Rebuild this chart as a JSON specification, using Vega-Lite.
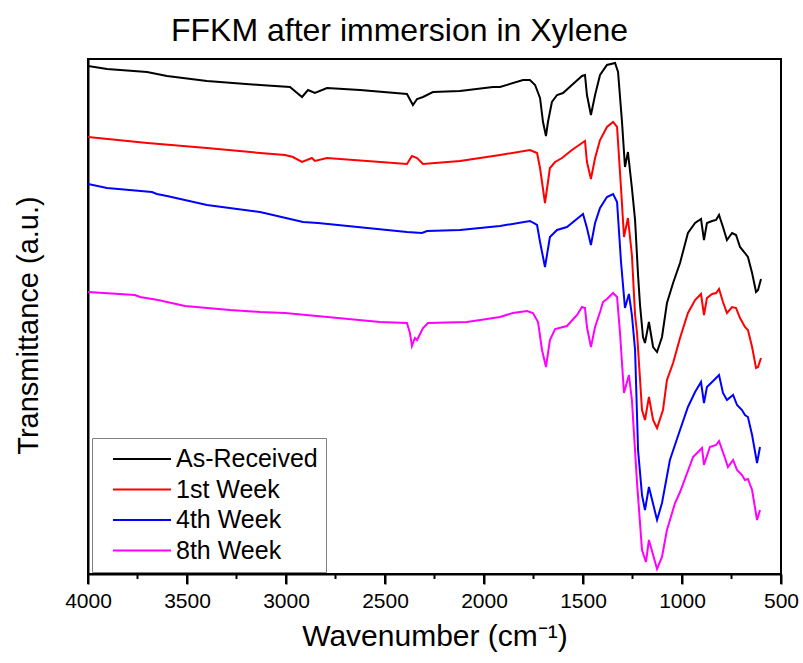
{
"$schema": "https://vega.github.io/schema/vega-lite/v6.json",
"width": 693, "height": 515,
"autosize": {"type": "none"},
"padding": {"left": 88, "top": 59, "right": 22, "bottom": 89},
"config": {"font": "Liberation Sans", "view": {"stroke": "black", "strokeWidth": 2}},
"title": {"text": "FFKM after immersion in Xylene", "fontSize": 32, "font": "Liberation Sans", "fontWeight": "normal", "color": "black", "anchor": "middle", "dx": -35, "offset": 11},
"datasets": {
"ticks": [
{"wn":4000,"lo":0,"hi":-10},{"wn":3750,"lo":0,"hi":-5},{"wn":3500,"lo":0,"hi":-10},{"wn":3250,"lo":0,"hi":-5},{"wn":3000,"lo":0,"hi":-10},{"wn":2750,"lo":0,"hi":-5},{"wn":2500,"lo":0,"hi":-10},{"wn":2250,"lo":0,"hi":-5},{"wn":2000,"lo":0,"hi":-10},{"wn":1750,"lo":0,"hi":-5},{"wn":1500,"lo":0,"hi":-10},{"wn":1250,"lo":0,"hi":-5},{"wn":1000,"lo":0,"hi":-10},{"wn":750,"lo":0,"hi":-5},{"wn":500,"lo":0,"hi":-10}
],
"spec": [
{"s":"As-Received","wn":4000,"t":508},{"s":"As-Received","wn":3904,"t":505},{"s":"As-Received","wn":3702,"t":502},{"s":"As-Received","wn":3601,"t":498},{"s":"As-Received","wn":3399,"t":493},{"s":"As-Received","wn":3202,"t":490},{"s":"As-Received","wn":3131,"t":489},{"s":"As-Received","wn":2980,"t":487},{"s":"As-Received","wn":2919,"t":477},{"s":"As-Received","wn":2889,"t":484},{"s":"As-Received","wn":2854,"t":481},{"s":"As-Received","wn":2793,"t":486},{"s":"As-Received","wn":2626,"t":484},{"s":"As-Received","wn":2389,"t":480},{"s":"As-Received","wn":2359,"t":469},{"s":"As-Received","wn":2338,"t":475},{"s":"As-Received","wn":2308,"t":477},{"s":"As-Received","wn":2258,"t":482},{"s":"As-Received","wn":2121,"t":483},{"s":"As-Received","wn":1955,"t":487},{"s":"As-Received","wn":1919,"t":487},{"s":"As-Received","wn":1803,"t":494},{"s":"As-Received","wn":1768,"t":494},{"s":"As-Received","wn":1742,"t":489},{"s":"As-Received","wn":1717,"t":476},{"s":"As-Received","wn":1702,"t":452},{"s":"As-Received","wn":1687,"t":438},{"s":"As-Received","wn":1677,"t":452},{"s":"As-Received","wn":1657,"t":472},{"s":"As-Received","wn":1631,"t":479},{"s":"As-Received","wn":1601,"t":481},{"s":"As-Received","wn":1556,"t":489},{"s":"As-Received","wn":1505,"t":498},{"s":"As-Received","wn":1490,"t":499},{"s":"As-Received","wn":1480,"t":479},{"s":"As-Received","wn":1460,"t":459},{"s":"As-Received","wn":1439,"t":479},{"s":"As-Received","wn":1414,"t":499},{"s":"As-Received","wn":1379,"t":509},{"s":"As-Received","wn":1338,"t":511},{"s":"As-Received","wn":1323,"t":502},{"s":"As-Received","wn":1303,"t":452},{"s":"As-Received","wn":1288,"t":407},{"s":"As-Received","wn":1273,"t":422},{"s":"As-Received","wn":1253,"t":386},{"s":"As-Received","wn":1237,"t":354},{"s":"As-Received","wn":1222,"t":299},{"s":"As-Received","wn":1212,"t":269},{"s":"As-Received","wn":1197,"t":237},{"s":"As-Received","wn":1187,"t":231},{"s":"As-Received","wn":1167,"t":252},{"s":"As-Received","wn":1146,"t":227},{"s":"As-Received","wn":1126,"t":222},{"s":"As-Received","wn":1101,"t":237},{"s":"As-Received","wn":1076,"t":271},{"s":"As-Received","wn":1045,"t":291},{"s":"As-Received","wn":1010,"t":311},{"s":"As-Received","wn":970,"t":341},{"s":"As-Received","wn":934,"t":351},{"s":"As-Received","wn":904,"t":355},{"s":"As-Received","wn":889,"t":334},{"s":"As-Received","wn":874,"t":351},{"s":"As-Received","wn":848,"t":353},{"s":"As-Received","wn":828,"t":354},{"s":"As-Received","wn":813,"t":359},{"s":"As-Received","wn":793,"t":347},{"s":"As-Received","wn":773,"t":334},{"s":"As-Received","wn":747,"t":341},{"s":"As-Received","wn":727,"t":339},{"s":"As-Received","wn":707,"t":327},{"s":"As-Received","wn":682,"t":321},{"s":"As-Received","wn":667,"t":317},{"s":"As-Received","wn":646,"t":301},{"s":"As-Received","wn":626,"t":282},{"s":"As-Received","wn":616,"t":284},{"s":"As-Received","wn":601,"t":295},
{"s":"1st Week","wn":4000,"t":437},{"s":"1st Week","wn":3700,"t":431},{"s":"1st Week","wn":3400,"t":426},{"s":"1st Week","wn":3131,"t":421},{"s":"1st Week","wn":3005,"t":419},{"s":"1st Week","wn":2965,"t":417},{"s":"1st Week","wn":2919,"t":412},{"s":"1st Week","wn":2869,"t":416},{"s":"1st Week","wn":2854,"t":413},{"s":"1st Week","wn":2793,"t":416},{"s":"1st Week","wn":2389,"t":410},{"s":"1st Week","wn":2364,"t":418},{"s":"1st Week","wn":2338,"t":416},{"s":"1st Week","wn":2308,"t":410},{"s":"1st Week","wn":2121,"t":413},{"s":"1st Week","wn":1919,"t":419},{"s":"1st Week","wn":1768,"t":424},{"s":"1st Week","wn":1732,"t":421},{"s":"1st Week","wn":1717,"t":406},{"s":"1st Week","wn":1692,"t":371},{"s":"1st Week","wn":1667,"t":406},{"s":"1st Week","wn":1641,"t":412},{"s":"1st Week","wn":1606,"t":416},{"s":"1st Week","wn":1556,"t":424},{"s":"1st Week","wn":1505,"t":431},{"s":"1st Week","wn":1490,"t":433},{"s":"1st Week","wn":1480,"t":412},{"s":"1st Week","wn":1460,"t":395},{"s":"1st Week","wn":1439,"t":416},{"s":"1st Week","wn":1414,"t":434},{"s":"1st Week","wn":1379,"t":447},{"s":"1st Week","wn":1348,"t":452},{"s":"1st Week","wn":1328,"t":447},{"s":"1st Week","wn":1308,"t":386},{"s":"1st Week","wn":1293,"t":337},{"s":"1st Week","wn":1273,"t":356},{"s":"1st Week","wn":1253,"t":319},{"s":"1st Week","wn":1237,"t":259},{"s":"1st Week","wn":1227,"t":241},{"s":"1st Week","wn":1202,"t":164},{"s":"1st Week","wn":1187,"t":154},{"s":"1st Week","wn":1167,"t":177},{"s":"1st Week","wn":1146,"t":154},{"s":"1st Week","wn":1126,"t":146},{"s":"1st Week","wn":1096,"t":164},{"s":"1st Week","wn":1076,"t":194},{"s":"1st Week","wn":1045,"t":211},{"s":"1st Week","wn":1010,"t":236},{"s":"1st Week","wn":970,"t":261},{"s":"1st Week","wn":934,"t":274},{"s":"1st Week","wn":904,"t":280},{"s":"1st Week","wn":889,"t":259},{"s":"1st Week","wn":874,"t":276},{"s":"1st Week","wn":848,"t":280},{"s":"1st Week","wn":828,"t":281},{"s":"1st Week","wn":813,"t":285},{"s":"1st Week","wn":793,"t":272},{"s":"1st Week","wn":773,"t":261},{"s":"1st Week","wn":747,"t":267},{"s":"1st Week","wn":727,"t":266},{"s":"1st Week","wn":707,"t":256},{"s":"1st Week","wn":682,"t":247},{"s":"1st Week","wn":667,"t":244},{"s":"1st Week","wn":646,"t":227},{"s":"1st Week","wn":626,"t":206},{"s":"1st Week","wn":616,"t":207},{"s":"1st Week","wn":601,"t":216},
{"s":"4th Week","wn":4000,"t":390},{"s":"4th Week","wn":3904,"t":386},{"s":"4th Week","wn":3677,"t":382},{"s":"4th Week","wn":3652,"t":380},{"s":"4th Week","wn":3601,"t":378},{"s":"4th Week","wn":3399,"t":369},{"s":"4th Week","wn":3131,"t":362},{"s":"4th Week","wn":2914,"t":352},{"s":"4th Week","wn":2838,"t":351},{"s":"4th Week","wn":2389,"t":342},{"s":"4th Week","wn":2313,"t":341},{"s":"4th Week","wn":2288,"t":343},{"s":"4th Week","wn":2121,"t":344},{"s":"4th Week","wn":1919,"t":348},{"s":"4th Week","wn":1768,"t":353},{"s":"4th Week","wn":1732,"t":349},{"s":"4th Week","wn":1717,"t":332},{"s":"4th Week","wn":1692,"t":307},{"s":"4th Week","wn":1667,"t":337},{"s":"4th Week","wn":1631,"t":344},{"s":"4th Week","wn":1581,"t":347},{"s":"4th Week","wn":1525,"t":356},{"s":"4th Week","wn":1500,"t":360},{"s":"4th Week","wn":1480,"t":346},{"s":"4th Week","wn":1460,"t":329},{"s":"4th Week","wn":1439,"t":351},{"s":"4th Week","wn":1414,"t":366},{"s":"4th Week","wn":1379,"t":377},{"s":"4th Week","wn":1348,"t":380},{"s":"4th Week","wn":1328,"t":372},{"s":"4th Week","wn":1308,"t":312},{"s":"4th Week","wn":1288,"t":266},{"s":"4th Week","wn":1268,"t":280},{"s":"4th Week","wn":1253,"t":259},{"s":"4th Week","wn":1237,"t":224},{"s":"4th Week","wn":1222,"t":124},{"s":"4th Week","wn":1202,"t":79},{"s":"4th Week","wn":1187,"t":64},{"s":"4th Week","wn":1167,"t":87},{"s":"4th Week","wn":1126,"t":54},{"s":"4th Week","wn":1101,"t":71},{"s":"4th Week","wn":1061,"t":114},{"s":"4th Week","wn":1010,"t":144},{"s":"4th Week","wn":970,"t":167},{"s":"4th Week","wn":934,"t":182},{"s":"4th Week","wn":904,"t":192},{"s":"4th Week","wn":889,"t":171},{"s":"4th Week","wn":874,"t":187},{"s":"4th Week","wn":843,"t":193},{"s":"4th Week","wn":813,"t":199},{"s":"4th Week","wn":793,"t":181},{"s":"4th Week","wn":773,"t":174},{"s":"4th Week","wn":742,"t":179},{"s":"4th Week","wn":722,"t":169},{"s":"4th Week","wn":697,"t":164},{"s":"4th Week","wn":682,"t":159},{"s":"4th Week","wn":667,"t":157},{"s":"4th Week","wn":646,"t":139},{"s":"4th Week","wn":621,"t":111},{"s":"4th Week","wn":606,"t":127},
{"s":"8th Week","wn":4000,"t":282},{"s":"8th Week","wn":3763,"t":279},{"s":"8th Week","wn":3737,"t":277},{"s":"8th Week","wn":3646,"t":274},{"s":"8th Week","wn":3510,"t":268},{"s":"8th Week","wn":3283,"t":264},{"s":"8th Week","wn":3131,"t":262},{"s":"8th Week","wn":3005,"t":261},{"s":"8th Week","wn":2525,"t":252},{"s":"8th Week","wn":2389,"t":251},{"s":"8th Week","wn":2374,"t":241},{"s":"8th Week","wn":2364,"t":228},{"s":"8th Week","wn":2349,"t":236},{"s":"8th Week","wn":2338,"t":234},{"s":"8th Week","wn":2308,"t":246},{"s":"8th Week","wn":2283,"t":251},{"s":"8th Week","wn":2086,"t":252},{"s":"8th Week","wn":1919,"t":257},{"s":"8th Week","wn":1854,"t":261},{"s":"8th Week","wn":1783,"t":263},{"s":"8th Week","wn":1753,"t":261},{"s":"8th Week","wn":1727,"t":252},{"s":"8th Week","wn":1707,"t":224},{"s":"8th Week","wn":1687,"t":207},{"s":"8th Week","wn":1667,"t":234},{"s":"8th Week","wn":1641,"t":245},{"s":"8th Week","wn":1581,"t":248},{"s":"8th Week","wn":1530,"t":259},{"s":"8th Week","wn":1505,"t":267},{"s":"8th Week","wn":1490,"t":266},{"s":"8th Week","wn":1480,"t":247},{"s":"8th Week","wn":1460,"t":227},{"s":"8th Week","wn":1439,"t":247},{"s":"8th Week","wn":1414,"t":262},{"s":"8th Week","wn":1399,"t":272},{"s":"8th Week","wn":1379,"t":275},{"s":"8th Week","wn":1348,"t":281},{"s":"8th Week","wn":1328,"t":277},{"s":"8th Week","wn":1313,"t":241},{"s":"8th Week","wn":1293,"t":181},{"s":"8th Week","wn":1268,"t":199},{"s":"8th Week","wn":1253,"t":174},{"s":"8th Week","wn":1227,"t":91},{"s":"8th Week","wn":1202,"t":24},{"s":"8th Week","wn":1182,"t":12},{"s":"8th Week","wn":1167,"t":34},{"s":"8th Week","wn":1126,"t":5},{"s":"8th Week","wn":1101,"t":17},{"s":"8th Week","wn":1076,"t":44},{"s":"8th Week","wn":1035,"t":71},{"s":"8th Week","wn":1010,"t":82},{"s":"8th Week","wn":944,"t":117},{"s":"8th Week","wn":899,"t":126},{"s":"8th Week","wn":889,"t":109},{"s":"8th Week","wn":859,"t":127},{"s":"8th Week","wn":828,"t":129},{"s":"8th Week","wn":813,"t":133},{"s":"8th Week","wn":783,"t":116},{"s":"8th Week","wn":768,"t":107},{"s":"8th Week","wn":742,"t":114},{"s":"8th Week","wn":722,"t":104},{"s":"8th Week","wn":697,"t":99},{"s":"8th Week","wn":682,"t":94},{"s":"8th Week","wn":667,"t":95},{"s":"8th Week","wn":646,"t":84},{"s":"8th Week","wn":621,"t":54},{"s":"8th Week","wn":606,"t":64}
]
},
"encoding": {
  "x": {"field": "wn", "type": "quantitative",
    "scale": {"domain": [500, 4000], "reverse": true, "nice": false, "zero": false},
    "axis": {"title": "Wavenumber (cm⁻¹)", "titleFontSize": 30, "titleFontWeight": "normal", "titleColor": "black", "titlePadding": 10,
      "values": [4000,3500,3000,2500,2000,1500,1000,500],
      "format": "d",
      "labelFontSize": 21, "labelColor": "black", "labelPadding": 6, "labelFlush": false, "labelOverlap": false,
      "ticks": true, "tickSize": 10, "tickWidth": 2, "tickColor": "black",
      "domainColor": "black", "domainWidth": 2, "grid": false}},
  "y": {"type": "quantitative",
    "scale": {"domain": [0, 515], "nice": false, "zero": false},
    "axis": {"title": "Transmittance (a.u.)", "titleFontSize": 29, "titleFontWeight": "normal", "titleColor": "black", "titlePadding": 45, "titleY": 266,
      "labels": false, "ticks": false, "grid": false, "domainColor": "black", "domainWidth": 2}}
},
"layer": [
  {
    "data": {"name": "spec"},
    "mark": {"type": "line", "strokeWidth": 2, "clip": true},
    "encoding": {
      "y": {"field": "t", "type": "quantitative",
        "scale": {"domain": [0, 515], "nice": false, "zero": false},
        "axis": {"title": "Transmittance (a.u.)", "titleFontSize": 29, "titleFontWeight": "normal", "titleColor": "black", "titlePadding": 45, "titleY": 266,
          "labels": false, "ticks": false, "grid": false, "domainColor": "black", "domainWidth": 2}},
      "color": {"field": "s", "type": "nominal",
        "scale": {"domain": ["As-Received", "1st Week", "4th Week", "8th Week"], "range": ["#000000", "#ff0000", "#0000ff", "#ff00ff"]},
        "legend": {"orient": "none", "legendX": 4, "legendY": 379, "title": null, "labelFontSize": 25, "labelColor": "black",
          "symbolType": "stroke", "symbolSize": 3364, "symbolStrokeWidth": 2, "strokeColor": "#808080", "fillColor": "white",
          "clipHeight": 26, "padding": 8, "rowPadding": 4.5, "labelOffset": 4, "symbolOffset": 12}}
    }
  },
  {
    "data": {"name": "ticks"},
    "mark": {"type": "rule", "color": "black", "strokeWidth": 2, "clip": false},
    "encoding": {
      "y": {"field": "lo", "type": "quantitative",
        "scale": {"domain": [0, 515], "nice": false, "zero": false},
        "axis": {"title": "Transmittance (a.u.)", "titleFontSize": 29, "titleFontWeight": "normal", "titleColor": "black", "titlePadding": 45, "titleY": 266,
          "labels": false, "ticks": false, "grid": false, "domainColor": "black", "domainWidth": 2}},
      "y2": {"field": "hi"}
    }
  }
]
}
